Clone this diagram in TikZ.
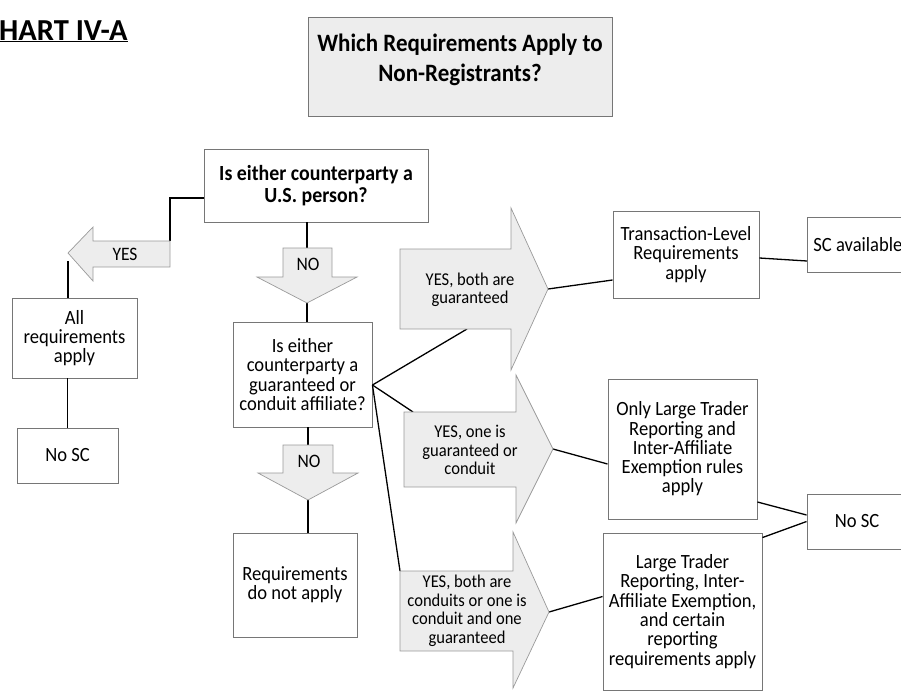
\documentclass[tikz,border=0pt]{standalone}
\usepackage{fontspec}
\setmainfont{Carlito}[FakeStretch=0.92]
\newfontfamily\headingfont{Carlito}
\begin{document}
\begin{tikzpicture}[x=1pt,y=-1pt,
  box/.style={draw=boxline, line width=0.9pt, fill=white, align=center, inner sep=0pt,
    font=\fontsize{20.2}{19.3}\selectfont},
  shadedbox/.style={box, fill=paleshade},
  qbox/.style={box, font=\bfseries\fontsize{21.6}{22}\selectfont},
  blockarrow/.style={draw=arrowline, line width=0.7pt, fill=paleshade, line join=miter},
  arrowtext/.style={align=center, inner sep=0pt, font=\fontsize{18}{18.5}\selectfont},
  arrowlabel/.style={inner sep=0pt, font=\fontsize{19}{19}\selectfont},
  link/.style={draw=black, line width=1.3pt}]
\definecolor{boxline}{HTML}{767676}
\definecolor{arrowline}{HTML}{9A9A9A}
\definecolor{paleshade}{HTML}{EDEDED}
\useasboundingbox (0,0) rectangle (901,691);

% heading and title block
\node[anchor=base west, inner sep=0pt, font=\headingfont\bfseries\fontsize{30.5}{31}\selectfont] (chart) at (-1,40) {\underline{HART IV-A}};
\node[shadedbox, minimum width=304, minimum height=99] (title) at (460,66.5) {};
\node[align=center, inner sep=0pt, font=\bfseries\fontsize{25}{30}\selectfont] (titletext) at (460,60)
  {Which Requirements Apply to\\Non-Registrants?};

% decision and outcome boxes
\node[qbox, minimum width=224, minimum height=73] (q1) at (316,185.5) {Is either counterparty a\\U.S. person?};
\node[box, minimum width=125, minimum height=80] (allreq) at (74.5,338) {All\\requirements\\apply};
\node[box, minimum width=101, minimum height=55] (noscL) at (67.5,455.5) {No SC};
\node[box, minimum width=139, minimum height=105] (q2) at (302.5,374.5) {Is either\\counterparty a\\guaranteed or\\conduit affiliate?};
\node[box, minimum width=124, minimum height=104] (notapply) at (295,585) {Requirements\\do not apply};
\node[box, minimum width=146, minimum height=87] (tl) at (686,254.5) {Transaction-Level\\Requirements\\apply};
\node[box, anchor=west, minimum height=55, inner xsep=6pt, text width=100pt, align=flush left] (scav) at (807,244.5) {SC available};
\node[box, minimum width=149, minimum height=140] (onlylt) at (682.5,449) {Only Large Trader\\Reporting and\\Inter-Affiliate\\Exemption rules\\apply};
\node[box, minimum width=100, minimum height=55] (noscR) at (857,521.5) {No SC};
\node[box, minimum width=159, minimum height=157] (ltr) at (682.5,611.5) {Large Trader\\Reporting, Inter-\\Affiliate Exemption,\\and certain\\reporting\\requirements apply};

% block arrow: YES (pointing left)
\coordinate (yesTip) at (68,253);
\coordinate (yesCorner) at (170,241);
% block arrow: NO below the first question
\coordinate (noATop) at (307,248);
\coordinate (noATip) at (307,303);
% block arrow: NO below the second question
\coordinate (noBTop) at (308,445);
\coordinate (noBTip) at (308,500);
% block arrows to the right
\coordinate (aTip) at (548,289);
\coordinate (aLow) at (467,329);
\coordinate (bTip) at (553,449);
\coordinate (bCorner) at (413,412);
\coordinate (cTip) at (549,612);
\coordinate (cCorner) at (400,571);
\coordinate (q2out) at ([yshift=-10.5pt]q2.east);

% connectors
\draw[link] ([yshift=-12.5pt]q1.west) -| (yesCorner);
\draw[link] ([yshift=-8pt]yesTip) -- (allreq.north -| yesTip);
\draw[link] (allreq.south -| noscL.north) -- (noscL.north);
\draw[link] (q1.south -| noATop) -- (noATop);
\draw[link] (noATip) -- (q2.north -| noATip);
\draw[link] (q2.south -| noBTop) -- (noBTop);
\draw[link] (noBTip) -- (notapply.north -| noBTip);
\draw[link] (q2out) -- (aLow);
\draw[link] (q2out) -- (bCorner);
\draw[link] (q2out) -- (cCorner);
\draw[link] (aTip) -- ([yshift=-25.5pt]tl.west);
\draw[link] ([yshift=-3.5pt]tl.east) -- ([yshift=-16.5pt]scav.west);
\draw[link] (bTip) -- ([yshift=-15pt]onlylt.west);
\draw[link] ([yshift=-53pt]onlylt.east) -- ([yshift=6.5pt]noscR.west);
\draw[link] ([yshift=-5pt]ltr.north east) -- (noscR.west);
\draw[link] (cTip) -- ([yshift=15pt]ltr.west);

% arrow bodies
\path[blockarrow] (yesTip) -- (93,227) -- (93,241) -- (yesCorner) -- (170,267) -- (93,267) -- (93,281) -- cycle;
\node[arrowlabel] (yes) at (125,254) {YES};
\path[blockarrow] (283,248) -- (332,248) -- (332,277) -- (357,277) -- (noATip) -- (257,277) -- (283,277) -- cycle;
\node[arrowlabel] (noA) at (308,264) {NO};
\path[blockarrow] (283,445) -- (333,445) -- (333,473) -- (358,473) -- (noBTip) -- (258,473) -- (283,473) -- cycle;
\node[arrowlabel] (noB) at (309,461) {NO};

\path[blockarrow] (400,249) -- (511,249) -- (511,208) -- (aTip) -- (511,370) -- (511,329) -- (400,329) -- cycle;
\node[arrowtext] (aText) at (470,290) {YES, both are\\guaranteed};
\path[blockarrow] (404,412) -- (516,412) -- (516,375) -- (bTip) -- (516,523) -- (516,487) -- (404,487) -- cycle;
\node[arrowtext] (bText) at (470,450) {YES, one is\\guaranteed or\\conduit};
\path[blockarrow] (400,571) -- (513,571) -- (513,532) -- (cTip) -- (513,688) -- (513,651) -- (400,651) -- cycle;
\node[arrowtext] (cText) at (467,611) {YES, both are\\conduits or one is\\conduit and one\\guaranteed};
\end{tikzpicture}
\end{document}
